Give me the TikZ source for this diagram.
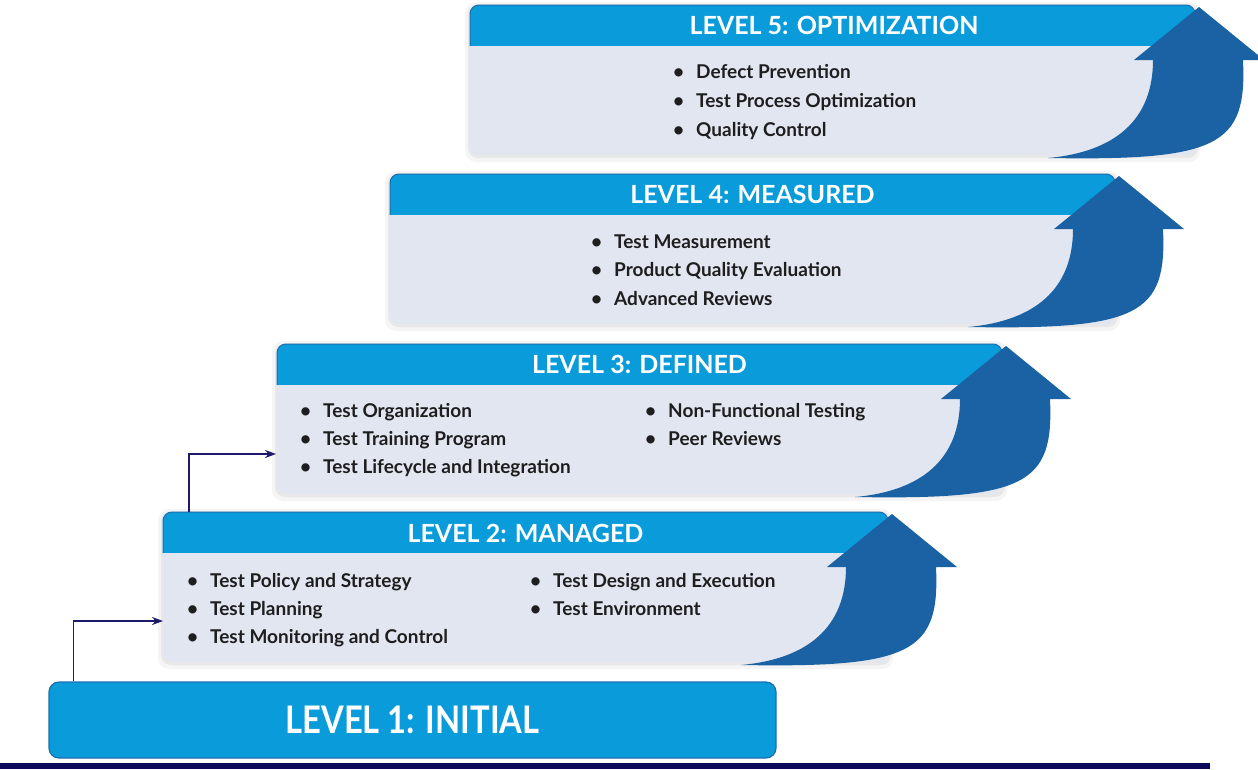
\documentclass[tikz,border=0pt]{standalone}
\usepackage{fontspec}
\setmainfont{Lato}
\usetikzlibrary{arrows.meta}
\definecolor{headc}{HTML}{0A9BDB}
\definecolor{headb}{HTML}{1C6FAE}
\definecolor{bodyc}{HTML}{E1E6F1}
\definecolor{arrc}{HTML}{1A62A3}
\definecolor{connc}{HTML}{1E1A6B}
\definecolor{navyc}{HTML}{0B0A5A}
\definecolor{txtc}{HTML}{1E1E1E}

\newcommand\stairlevel[2]{%
 \pgfmathsetmacro\Lx{#1}%
 \pgfmathsetmacro\Rx{#1+725}%
 \pgfmathsetmacro\Ty{#2}%
 \pgfmathsetmacro\Hy{#2+40}%
 \pgfmathsetmacro\By{#2+150}%
 \fill[black,opacity=0.04,rounded corners=11pt] (\Lx-5,\Ty-3) rectangle (\Rx+5,\By+7);
 \fill[black,opacity=0.05,rounded corners=10pt] (\Lx-2,\Ty-1) rectangle (\Rx+3,\By+3);
 \begin{scope}
  \clip (\Lx-5,\Hy) rectangle (\Rx+5,\By+5);
  \fill[bodyc,rounded corners=9pt] (\Lx,\Hy-20) rectangle (\Rx,\By);
 \end{scope}
 \begin{scope}
  \clip (\Lx-5,\Ty-5) rectangle (\Rx+5,\Hy);
  \filldraw[fill=headc,draw=headb,line width=1pt,rounded corners=9pt] (\Lx,\Ty) rectangle (\Rx,\Hy+20);
 \end{scope}
 \fill[arrc] (\Rx-42,\Ty+55) -- (\Rx-61,\Ty+55) -- (\Rx+4,\Ty+2) -- (\Rx+69,\Ty+55) -- (\Rx+48,\Ty+55)
   .. controls (\Rx+52,\By-10) and (\Rx+25,\By+6) .. (\Rx-147,\By+3)
   .. controls (\Rx-80,\By-3) and (\Rx-42,\By-35) .. (\Rx-42,\Ty+55) -- cycle;
}

\tikzset{
  titletxt/.style={inner sep=0pt, text=white, font=\fontsize{25}{26}\selectfont\bfseries},
  itemtxt/.style={inner sep=0pt, anchor=base west, text=txtc, font=\fontsize{19}{20}\selectfont\bfseries},
  l1box/.style={rectangle, rounded corners=10pt, fill=headc, draw=headb, line width=1.2pt,
     minimum width=727pt, minimum height=76pt, inner sep=0pt, text=white,
     font=\fontsize{38}{40}\selectfont\bfseries},
  conn/.style={draw=connc, line width=1.8pt, -{Stealth[length=11pt,width=8pt]}},
}
\newcommand\itm[1]{\llap{\textbullet\hspace{12pt}}#1}

\begin{document}
\begin{tikzpicture}[x=1pt,y=-1pt]
\useasboundingbox (0,0) rectangle (1258,769);
\fill[white] (0,0) rectangle (1258,769);

\stairlevel{470}{5}
\stairlevel{390}{174}
\stairlevel{277}{344}
\stairlevel{163}{512}

% titles
\node[titletxt] (t5) at (834,25) {LEVEL 5: OPTIMIZATION};
\node[titletxt] (t4) at (752.5,194) {LEVEL 4: MEASURED};
\node[titletxt] (t3) at (639.5,364) {LEVEL 3: DEFINED};
\node[titletxt] (t2) at (525.5,533) {LEVEL 2: MANAGED};

% level 5 items
\node[itemtxt] (i51) at (696,78) {\itm{Defect Prevention}};
\node[itemtxt] (i52) at (696,107) {\itm{Test Process Optimization}};
\node[itemtxt] (i53) at (696,136) {\itm{Quality Control}};
% level 4 items
\node[itemtxt] (i41) at (614,248) {\itm{Test Measurement}};
\node[itemtxt] (i42) at (614,276) {\itm{Product Quality Evaluation}};
\node[itemtxt] (i43) at (614,305) {\itm{Advanced Reviews}};
% level 3 items
\node[itemtxt] (i31) at (323,417) {\itm{Test Organization}};
\node[itemtxt] (i32) at (323,445) {\itm{Test Training Program}};
\node[itemtxt] (i33) at (323,473) {\itm{Test Lifecycle and Integration}};
\node[itemtxt] (i34) at (668,417) {\itm{Non-Functional Testing}};
\node[itemtxt] (i35) at (668,445) {\itm{Peer Reviews}};
% level 2 items
\node[itemtxt] (i21) at (210,587) {\itm{Test Policy and Strategy}};
\node[itemtxt] (i22) at (210,615) {\itm{Test Planning}};
\node[itemtxt] (i23) at (210,643) {\itm{Test Monitoring and Control}};
\node[itemtxt] (i24) at (553,587) {\itm{Test Design and Execution}};
\node[itemtxt] (i25) at (553,615) {\itm{Test Environment}};

% level 1
\node[l1box] (l1) at (412.5,720) {\scalebox{0.86}[1]{LEVEL 1: INITIAL}};

% connectors
\coordinate (in2) at (163,621);
\coordinate (h2) at (189,512);
\coordinate (in3) at (276,454);
\draw[conn] ([xshift=25pt]l1.north west) |- (in2);
\draw[conn] (h2) |- (in3);

% bottom bar
\fill[navyc] (0,763) rectangle (1210,769);
\end{tikzpicture}
\end{document}
